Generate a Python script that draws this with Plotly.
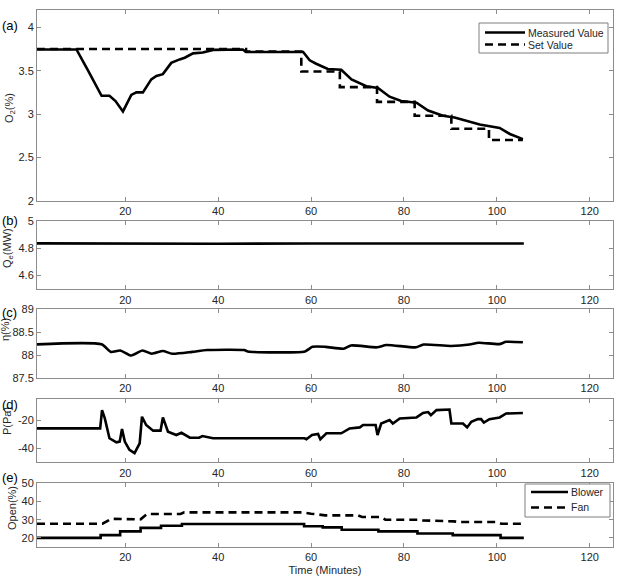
import plotly.graph_objects as go

# ---------------- data ----------------
# (a) O2 (%)
o2_t = [1, 9.5, 12, 14.9, 16.6, 17.9, 19.5, 21.3, 22.4, 23.8, 25.6, 26.7, 28.1, 29.9, 31.7, 32.8,
        34.6, 36.7, 38.9, 45.3, 46, 58.3, 59.7, 61.1, 63.6, 66.5, 68.7, 71.9, 74.4, 76.9, 79.4,
        82.7, 85.2, 88.4, 90.9, 94.1, 96.3, 100.6, 102.8, 105.6]
o2_meas = [3.745, 3.745, 3.50, 3.21, 3.21, 3.15, 3.03, 3.22, 3.25, 3.25, 3.40, 3.44, 3.46, 3.59,
           3.63, 3.65, 3.70, 3.71, 3.74, 3.745, 3.715, 3.715, 3.62, 3.58, 3.52, 3.51, 3.40, 3.32,
           3.30, 3.20, 3.15, 3.13, 3.04, 2.98, 2.96, 2.91, 2.88, 2.84, 2.77, 2.71]
set_t = [1, 46, 57.9, 66.2, 74.2, 82.3, 90.2, 98.3, 105.6]
set_val = [3.75, 3.72, 3.49, 3.31, 3.14, 2.98, 2.83, 2.70, 2.70]

# (b) Qe (MW)
qe_t = [1, 20, 40, 60, 80, 105.8]
qe_val = [4.835, 4.832, 4.832, 4.834, 4.834, 4.834]

# (c) eta (%)
eta_t = [1, 14.9, 16.9, 18.9, 21.3, 23.7, 25.7, 28.1, 30.1, 34.4, 37.6, 45.6, 46.4, 58.7, 60.3,
         63.1, 67, 68.6, 74.2, 76.2, 82.6, 84.2, 90.1, 94.1, 96.1, 100.5, 102, 105.6]
eta_val = [88.235, 88.235, 88.07, 88.10, 87.99, 88.10, 88.03, 88.09, 88.03, 88.07, 88.11, 88.11,
           88.08, 88.08, 88.18, 88.18, 88.14, 88.21, 88.17, 88.22, 88.17, 88.23, 88.20, 88.23,
           88.27, 88.24, 88.29, 88.28]

# (d) P (Pa)
p_t = [1, 14.6, 15.0, 15.6, 16.6, 18.1, 18.8, 19.3, 19.9, 20.9, 22.0, 23.1, 23.6, 24.5, 26.0,
       27.6, 28.1, 29.2, 31.0, 32.1, 33.9, 35.9, 36.6, 38.9, 58.6, 59.0, 60.2, 61.5, 62.0, 63.3,
       66.5, 68.3, 70.5, 71.2, 73.9, 74.3, 75.1, 76.9, 77.6, 79.1, 82.7, 84.1, 85.2, 85.8, 87.0,
       89.8, 90.2, 92.7, 93.6, 94.5, 95.9, 96.6, 97.2, 98.4, 100.6, 102.0, 105.6]
p_val = [-25.9, -25.9, -12.9, -18.8, -32.9, -35.8, -35.3, -26.4, -35.3, -41.2, -43.5, -36.5,
         -17.6, -23.5, -27.5, -27.5, -18.1, -28.3, -30.6, -29.0, -32.5, -32.5, -31.3, -32.9,
         -32.9, -33.6, -30.6, -29.9, -33.6, -29.4, -29.4, -25.9, -25.2, -23.5, -23.5, -30.6,
         -22.4, -20.0, -22.4, -18.8, -18.1, -14.9, -14.3, -16.5, -12.9, -12.5, -22.4, -22.4,
         -25.2, -21.2, -19.3, -19.3, -21.7, -19.3, -18.1, -15.3, -14.9]

# (e) Open (%)
bl_t = [1, 14.7, 18.9, 23.3, 27.7, 32.2, 58.5, 62.5, 66.6, 74.5, 82.9, 90.5, 100.8, 105.8]
bl_val = [20, 21.5, 23.6, 25.5, 26.7, 27.6, 26.4, 25.8, 24.5, 23.6, 22.4, 21.5, 20, 20]
fan_t = [1, 15.1, 17.0, 22.0, 23.3, 24.7, 31.9, 32.7, 58.3, 60.0, 63.0, 70.0, 71.0, 75.0, 76.0,
         83.0, 84.0, 90.7, 92.0, 100.0, 101.0, 105.8]
fan_val = [27.8, 27.8, 30.5, 30.5, 30.2, 33.1, 33.1, 34.0, 34.0, 33.3, 32.4, 32.4, 31.5, 31.5,
           30.0, 30.0, 29.6, 29.1, 28.7, 28.7, 27.8, 27.8]

legend_a = ["Measured Value", "Set Value"]
legend_e = ["Blower", "Fan"]

# ---------------- figure ----------------
W, H = 618, 581
ML, MR, MT, MB = 37, 5, 10, 34
PW, PH = W - ML - MR, H - MT - MB


def py(v):
    return (H - MB - v) / PH


def px(v):
    return (v - ML) / PW


panels = [  # (top px, bottom px, yrange, tickvals, ticktext)
    (10, 200.7, [2, 4.2], [2, 2.5, 3, 3.5, 4], ["2", "2.5", "3", "3.5", "4"]),
    (220.7, 289.3, [4.5, 5], [4.6, 4.8, 5], ["4.6", "4.8", "5"]),
    (309.3, 378, [87.5, 89], [87.5, 88, 88.5, 89], ["87.5", "88", "88.5", "89"]),
    (399, 462.3, [-50, -5], [-40, -20], ["-40", "-20"]),
    (483.3, 547, [15, 50], [20, 30, 40, 50], ["20", "30", "40", "50"]),
]

fig = go.Figure()
LW = 2.6
DASH = "8px,5px"

fig.add_trace(go.Scatter(x=set_t, y=set_val, mode="lines", name=legend_a[1], line_shape="hv",
                         line=dict(color="black", width=LW, dash=DASH), xaxis="x", yaxis="y"))
fig.add_trace(go.Scatter(x=o2_t, y=o2_meas, mode="lines", name=legend_a[0],
                         line=dict(color="black", width=LW), xaxis="x", yaxis="y"))
fig.add_trace(go.Scatter(x=qe_t, y=qe_val, mode="lines",
                         line=dict(color="black", width=LW), xaxis="x2", yaxis="y2"))
fig.add_trace(go.Scatter(x=eta_t, y=eta_val, mode="lines", line_shape="spline",
                         line=dict(color="black", width=LW, smoothing=0.6), xaxis="x3", yaxis="y3"))
fig.add_trace(go.Scatter(x=p_t, y=p_val, mode="lines",
                         line=dict(color="black", width=LW), xaxis="x4", yaxis="y4"))
fig.add_trace(go.Scatter(x=bl_t, y=bl_val, mode="lines", name=legend_e[0], line_shape="hv",
                         line=dict(color="black", width=LW), xaxis="x5", yaxis="y5"))
fig.add_trace(go.Scatter(x=fan_t, y=fan_val, mode="lines", name=legend_e[1],
                         line=dict(color="black", width=LW, dash=DASH), xaxis="x5", yaxis="y5"))

TICKFONT = dict(family="Liberation Sans, Arial, sans-serif", size=11, color="#262626")
AXCOL = "#8c8c8c"

layout = dict(
    width=W, height=H, margin=dict(l=ML, r=MR, t=MT, b=MB),
    paper_bgcolor="white", plot_bgcolor="white", showlegend=False,
    font=dict(family="Liberation Sans, Arial, sans-serif", size=11, color="#262626"),
)

for i, (top, bot, yr, tv, tt) in enumerate(panels):
    n = "" if i == 0 else str(i + 1)
    layout["xaxis" + n] = dict(
        domain=[0, 1], anchor="y" + n, range=[1, 125], tickvals=[20, 40, 60, 80, 100, 120],
        ticks="inside", ticklen=4, tickcolor=AXCOL, showline=True, linecolor=AXCOL, linewidth=1,
        mirror="ticks", showgrid=False, zeroline=False, tickfont=TICKFONT)
    layout["yaxis" + n] = dict(
        domain=[py(bot), py(top)], anchor="x" + n, range=yr, tickvals=tv, ticktext=tt,
        ticks="inside", ticklen=4, tickcolor=AXCOL, showline=True, linecolor=AXCOL, linewidth=1,
        mirror="ticks", showgrid=False, zeroline=False, tickfont=TICKFONT)

layout["xaxis5"]["title"] = dict(text="Time (Minutes)", font=dict(size=11, color="#262626"),
                                 standoff=4)
fig.update_layout(**layout)

ytitles = [("O<sub>2</sub>(%)", 10, 108), ("Q<sub>e</sub>(MW)", 8, 248), ("η(%)", 5, 330),
           ("P(Pa)", 7, 421), ("Open(%)", 12, 508)]
for txt, x0, y0 in ytitles:
    fig.add_annotation(text=txt, xref="paper", yref="paper", x=px(x0), y=py(y0),
                       xanchor="center", yanchor="middle", textangle=-90, showarrow=False,
                       font=dict(size=11, color="#262626"))

plabels = [("(a)", 25), ("(b)", 220), ("(c)", 312), ("(d)", 404), ("(e)", 477)]
for txt, y0 in plabels:
    fig.add_annotation(text=txt, xref="paper", yref="paper", x=px(0), y=py(y0),
                       xanchor="left", yanchor="middle", showarrow=False,
                       font=dict(size=13, color="black"))


# ---- manual legends (box, line samples, labels) ----
def draw_legend(box, rows):
    x0, y0, x1, y1 = box
    fig.add_shape(type="rect", xref="paper", yref="paper", x0=px(x0), x1=px(x1),
                  y0=py(y1), y1=py(y0), line=dict(color="#7f7f7f", width=1),
                  fillcolor="white", layer="above")
    for (lx0, lx1, ly, dash, label) in rows:
        fig.add_shape(type="line", xref="paper", yref="paper", x0=px(lx0), x1=px(lx1),
                      y0=py(ly), y1=py(ly), layer="above",
                      line=dict(color="black", width=LW, dash=dash))
        fig.add_annotation(text=label, xref="paper", yref="paper", x=px(lx1 + 1), y=py(ly),
                           xanchor="left", yanchor="middle", showarrow=False,
                           font=dict(size=10.5, color="#262626"))


draw_legend((479, 23, 608, 53), [(485, 525, 32.5, "solid", legend_a[0]),
                                 (485, 525, 44.5, DASH, legend_a[1])])
draw_legend((525, 484, 610, 517), [(531, 568, 492, "solid", legend_e[0]),
                                   (531, 568, 507.5, DASH, legend_e[1])])

fig.write_html("out.html")
